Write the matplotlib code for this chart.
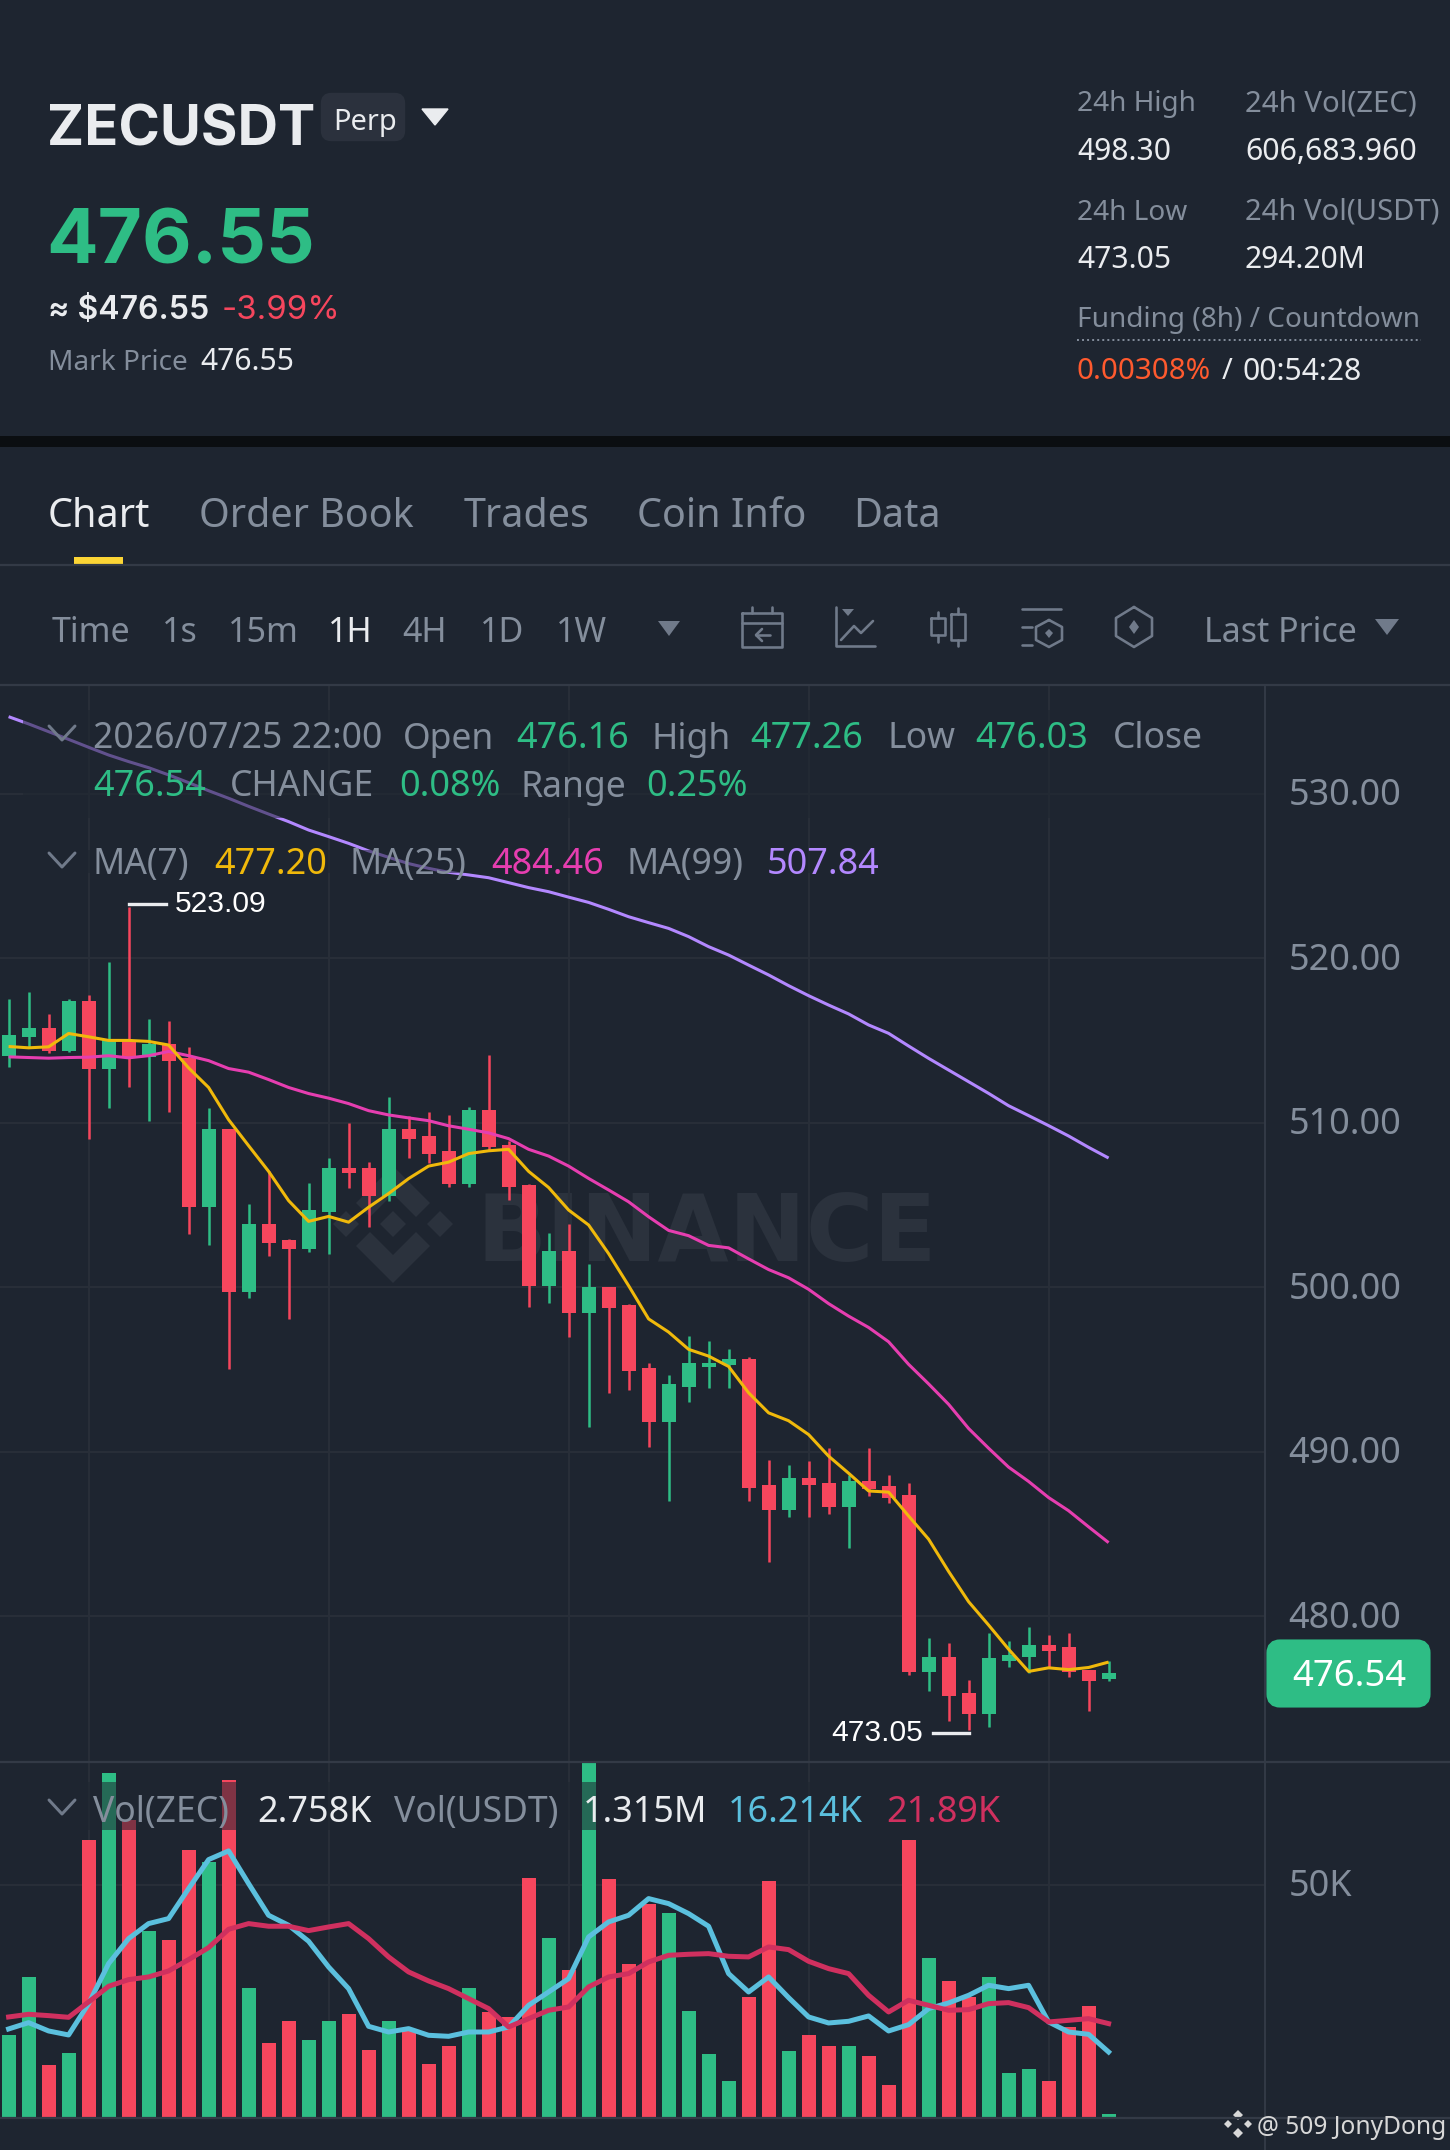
import matplotlib
matplotlib.use("Agg")
import matplotlib.pyplot as plt
from matplotlib.patches import FancyBboxPatch, Polygon, Rectangle
from matplotlib.transforms import offset_copy, ScaledTranslation

BG = "#1E2530"; GREEN = "#2EBD85"; RED = "#F6465D"; GRAY = "#848E9C"; WHITE = "#EAECEF"
ICON = "#707A8A"; GRID = "#282E38"; DIV = "#333A46"; YEL = "#F0B90B"; PINK = "#E63EB0"; PURP = "#B388FF"
VBLUE = "#5BC0DE"; VPINK = "#D0305F"

opens = [514.04,515.17,515.77,514.36,517.40,513.23,514.99,513.97,514.78,513.93,504.85,509.59,499.71,503.83,502.86,502.34,504.55,507.26,507.22,505.53,509.61,509.15,508.26,506.26,510.74,508.65,506.22,500.08,
         502.19,498.43,499.97,498.91,495.09,491.79,493.94,495.11,495.28,495.63,487.94,486.47,488.40,488.10,486.60,488.18,487.90,487.33,476.61,477.48,475.29,474.07,477.28,477.50,478.22,478.13,476.70,476.16]
closes = [515.32,515.77,514.36,517.40,513.23,514.99,513.97,514.78,513.76,504.85,509.59,499.71,503.83,502.68,502.34,504.70,507.26,506.94,505.53,509.63,509.00,508.11,506.26,510.76,508.50,506.05,500.08,502.18,
          498.43,499.97,498.75,494.91,491.79,494.11,495.41,495.41,495.63,487.81,486.47,488.40,487.94,486.60,488.18,487.75,487.18,476.61,477.48,475.13,474.07,477.46,477.65,478.22,477.87,476.59,476.07,476.54]
highs = [517.49,517.92,516.62,517.49,517.75,519.73,523.09,516.27,516.14,514.58,510.89,509.62,505.07,507.03,502.94,506.33,507.87,509.96,507.57,511.58,510.41,510.61,510.48,510.93,514.08,508.87,506.25,503.31,
         503.86,501.38,499.99,498.95,495.41,494.65,497.04,496.69,496.21,495.74,489.46,489.16,489.42,490.24,488.57,490.24,488.59,488.07,478.67,478.35,476.13,478.95,478.46,479.32,478.82,478.98,476.72,477.26]
lows = [513.39,514.58,514.23,514.28,509.02,510.89,512.17,510.11,510.65,503.20,502.53,495.02,499.36,501.86,498.08,502.12,502.03,506.03,503.64,505.25,507.87,507.52,506.09,506.05,508.33,505.29,498.80,499.01,
        496.97,491.50,493.57,493.72,490.29,487.01,493.02,493.87,493.83,487.01,483.27,486.03,486.03,486.21,484.14,487.31,486.84,476.39,475.46,473.64,473.05,473.27,476.89,476.55,476.85,476.31,474.22,476.03]
ma7 = [514.62,514.54,514.60,515.41,515.21,514.99,514.99,514.93,514.71,513.32,512.13,510.17,508.59,507.03,505.25,503.99,504.29,503.94,504.85,505.68,506.59,507.35,507.59,508.11,508.28,508.37,507.03,506.05,
       504.68,503.77,502.03,500.08,498.06,497.26,496.21,495.80,495.17,493.57,492.35,491.87,491.03,489.72,488.68,487.60,487.53,486.08,484.67,482.71,480.87,479.45,477.98,476.63,476.85,476.74,476.87,477.20]
ma25 = [513.99,513.95,513.91,513.95,513.97,514.06,513.93,514.06,514.32,514.06,513.76,513.28,513.06,512.61,512.13,511.76,511.48,511.15,510.72,510.46,510.28,510.11,509.80,509.59,509.37,509.02,508.37,507.96,
        507.35,506.60,505.90,505.18,504.27,503.44,503.12,502.53,502.38,501.71,501.06,500.56,499.86,498.99,498.23,497.54,496.67,495.30,494.11,492.87,491.40,490.20,489.05,488.18,487.20,486.40,485.42,484.46]
ma99 = [534.67,534.23,533.76,533.29,532.81,532.34,531.94,531.57,531.13,530.66,530.17,529.71,529.22,528.75,528.29,527.78,527.38,526.97,526.51,526.12,525.74,525.45,525.21,525.05,524.88,524.58,524.28,524.03,
        523.70,523.38,522.96,522.51,522.15,521.80,521.30,520.69,520.18,519.57,518.97,518.32,517.71,517.14,516.60,515.93,515.42,514.65,513.90,513.19,512.48,511.77,511.02,510.42,509.81,509.18,508.49,507.84]
volumes = [17.58,30.13,11.12,13.77,59.54,74.11,63.99,39.96,38.17,57.39,54.88,72.46,27.84,16.00,20.59,16.50,20.59,22.10,14.49,20.66,18.51,11.41,15.35,27.76,22.60,21.52,51.44,38.52,
           31.71,78.00,51.15,32.86,45.91,43.83,22.81,13.56,7.68,25.90,50.72,14.13,17.65,15.28,15.35,13.20,6.96,59.54,34.15,29.20,25.83,30.06,9.54,10.33,7.82,19.37,23.89,0.72]
vol_ma7 = [18.94,20.30,18.51,17.65,24.39,33.00,38.38,41.61,42.69,49.14,55.38,57.25,50.22,43.40,41.25,37.81,32.28,27.62,19.51,18.29,19.01,17.58,17.36,18.29,18.29,19.37,24.03,26.90,
           29.77,38.74,41.97,43.40,46.99,45.91,43.76,41.04,30.85,26.90,30.13,25.68,21.52,20.23,20.59,21.74,18.51,19.87,23.32,24.54,26.18,28.34,27.62,28.34,20.45,18.29,17.79,13.99]
vol_ma25 = [21.52,22.10,21.81,21.45,24.75,28.12,29.56,30.13,31.42,33.86,36.44,40.39,41.61,41.04,41.04,40.10,40.89,41.61,38.38,34.44,31.21,29.27,27.62,25.47,23.32,19.37,21.16,22.96,
            23.67,27.98,30.13,30.85,33.36,34.79,35.01,35.15,34.58,34.44,36.59,36.01,33.50,31.92,30.85,26.18,22.60,25.11,24.03,22.96,23.10,24.39,24.61,23.53,20.45,20.80,21.16,20.09]
price_ticks = [480, 490, 500, 510, 520, 530]
price_tick_labels = ["480.00", "490.00", "500.00", "510.00", "520.00", "530.00"]
grid_candles = [4, 16, 28, 40, 52]
low_val, high_val = min(lows), max(highs)

W, H = 1450, 2150
fig = plt.figure(figsize=(W/100, H/100), dpi=100, facecolor=BG)
SANS = ["Noto Sans", "DejaVu Sans"]
def pt(px): return px*0.72

def px_axes(z):
    a = fig.add_axes([0, 0, 1, 1], zorder=z)
    a.set_xlim(0, W); a.set_ylim(H, 0); a.axis("off"); a.patch.set_alpha(0)
    return a
under = px_axes(0)
over = px_axes(5)

def T(x, y, s, size=29, color=GRAY, ha="left", weight="normal", family=SANS, a=None):
    (a or over).text(x, y, s, fontsize=pt(size), color=color, ha=ha, va="center_baseline", fontweight=weight, family=family)

# watermark
cx, cy = 393, 1224
WM = "#2B323D"
for pts in ([(0,-58),(37,-21),(23,-7),(0,-30),(-23,-7),(-37,-21)], [(0,59),(37,22),(23,8),(0,31),(-23,8),(-37,22)],
            [(0,-13),(13,0),(0,13),(-13,0)], [(-47,-13),(-34,0),(-47,13),(-60,0)], [(47,-13),(60,0),(47,13),(34,0)]):
    under.add_patch(Polygon([(cx+a, cy+b) for a, b in pts], closed=True, fc=WM, ec="none"))
under.text(477, 1225, "BINANCE", fontsize=pt(92), color=WM, ha="left", va="center_baseline", fontweight="bold", family=["DejaVu Sans"])

# price pane
x_left, x_right = -8.6/20, (1265-8.6)/20
ax = fig.add_axes([0, 1-1761/H, 1265/W, (1761-686)/H], zorder=1)
ax.patch.set_alpha(0)
ax.set_xlim(x_left, x_right)
ax.set_ylim(520-(1761-958)/16.45, 520+(958-686)/16.45)
xs = list(range(len(opens)))
cols = [GREEN if c >= o else RED for o, c in zip(opens, closes)]
ax.set_xticks(grid_candles); ax.set_yticks(price_ticks); ax.set_yticklabels(price_tick_labels, family=SANS, va="center")
ax.tick_params(axis="x", length=0, labelbottom=False)
ax.yaxis.tick_right()
ax.tick_params(axis="y", length=0, pad=17, labelsize=pt(36), labelcolor=GRAY)
ax.grid(True, color=GRID, lw=1.5); ax.set_axisbelow(True)
for s in ax.spines.values(): s.set_visible(False)
ax.vlines(xs, lows, highs, colors=cols, lw=1.8, zorder=2)
ax.bar(xs, [abs(c-o) for o, c in zip(opens, closes)], bottom=[min(o, c) for o, c in zip(opens, closes)], width=0.7, color=cols, zorder=3)
ax.plot(xs, ma99, color=PURP, lw=2.2, zorder=4, solid_capstyle="butt")
ax.plot(xs, ma25, color=PINK, lw=2.2, zorder=4, solid_capstyle="butt")
ax.plot(xs, ma7, color=YEL, lw=2.2, zorder=4, solid_capstyle="butt")
hi_i, lo_i = highs.index(high_val), lows.index(low_val)
up = offset_copy(ax.transData, fig=fig, y=2, units="points")
dn = offset_copy(ax.transData, fig=fig, y=-2, units="points")
ax.plot([hi_i, hi_i+1.85], [high_val]*2, color=WHITE, lw=2.4, zorder=5, transform=up)
ax.plot([lo_i, lo_i-1.8], [low_val]*2, color=WHITE, lw=2.4, zorder=5, transform=dn)
ax.text(hi_i+2.3, high_val, f"{high_val:.2f}", va="center", ha="left", color="white", fontsize=pt(30), family=["Liberation Sans"], zorder=6, transform=up)
ax.text(lo_i-2.3, low_val, f"{low_val:.2f}", va="center", ha="right", color="white", fontsize=pt(30), family=["Liberation Sans"], zorder=6, transform=dn)

# volume pane
vx = fig.add_axes([0, 1-2117/H, 1265/W, (2117-1763)/H], zorder=2)
vx.patch.set_alpha(0)
vx.set_xlim(x_left, x_right); vx.set_ylim(0, (2117-1763)/4.648)
vx.set_xticks(grid_candles); vx.set_yticks([50]); vx.set_yticklabels(["50K"], family=SANS, va="center")
vx.tick_params(axis="x", length=0, labelbottom=False)
vx.yaxis.tick_right()
vx.tick_params(axis="y", length=0, pad=17, labelsize=pt(36), labelcolor=GRAY)
vx.grid(True, color=GRID, lw=1.5); vx.set_axisbelow(True)
for s in vx.spines.values(): s.set_visible(False)
vx.bar(xs, volumes, width=0.7, color=cols, zorder=3)
vx.plot(xs, vol_ma7, color=VBLUE, lw=3.6, zorder=4)
vx.plot(xs, vol_ma25, color=VPINK, lw=3.6, zorder=5)

# nudge the axis labels down a little
nudge = ScaledTranslation(0, -2/72, fig.dpi_scale_trans)
for a_ in (ax, vx):
    for tick in a_.yaxis.get_major_ticks():
        tick.label2.set_transform(tick.label2.get_transform() + nudge)

# legend veils
for (x0, y0, x1, y1) in [(23, 710, 1265, 818), (48, 850, 900, 873), (88, 1782, 1000, 1830)]:
    over.add_patch(Rectangle((x0, y0), x1-x0, y1-y0, fc=BG, ec="none", alpha=0.55))

# chrome lines
over.add_patch(Rectangle((0, 436), W, 11, fc="#0B0E11", ec="none"))
for y in (565, 685, 1762, 2118):
    over.plot([0, W], [y, y], color=DIV, lw=1.6)
over.plot([1265, 1265], [686, H], color=DIV, lw=1.4)
over.add_patch(Rectangle((74, 557), 49, 9, fc="#FCD535", ec="none"))

# header
T(47, 125, "ZECUSDT", 56, WHITE, weight="bold", family=["Inter"])
over.add_patch(FancyBboxPatch((325, 97), 76, 40, boxstyle="round,pad=0,rounding_size=6", mutation_aspect=1, fc="#2B313D", ec="#2B313D", lw=6))
T(333, 119, "Perp", 29, WHITE)
over.add_patch(Polygon([(422, 109), (448, 109), (435, 125)], fc=WHITE, ec=WHITE, lw=1))
T(46, 236, "476.55", 76.5, GREEN, weight="bold", family=["Inter"])
T(48, 307, "≈ $476.55", 32, WHITE, weight="semibold", family=["Inter", "DejaVu Sans"])
T(222, 307, "-3.99%", 33, RED, family=["Inter"])
T(48, 359, "Mark Price", 28, GRAY)
T(200, 359, "476.55", 30, WHITE)
for x, y, s, c, z in [(1077, 101, "24h High", GRAY, 28), (1245, 101, "24h Vol(ZEC)", GRAY, 29.4), (1077, 149, "498.30", WHITE, 30), (1245, 149, "606,683.960", WHITE, 30.2),
                   (1077, 209, "24h Low", GRAY, 28), (1245, 209, "24h Vol(USDT)", GRAY, 29.2), (1077, 257, "473.05", WHITE, 30), (1245, 257, "294.20M", WHITE, 30),
                   (1077, 317, "Funding (8h) / Countdown", GRAY, 28), (1077, 368, "0.00308%", "#FF5A2E", 29.5), (1222, 368, "/", WHITE, 29), (1243, 368, "00:54:28", WHITE, 30)]:
    T(x, y, s, z, c)
over.plot([1077, 1421], [340, 340], color=GRAY, lw=1.4, ls=(0, (1, 1.6)))

# tabs
for x, s, c in [(48, "Chart", WHITE), (199, "Order Book", GRAY), (464, "Trades", GRAY), (637, "Coin Info", GRAY), (853, "Data", GRAY)]:
    T(x, 512, s, 39.5, c, weight="medium")
for x, s, c in [(52, "Time", GRAY), (162, "1s", GRAY), (228, "15m", GRAY), (328, "1H", WHITE), (402, "4H", GRAY), (480, "1D", GRAY), (556, "1W", GRAY), (1204, "Last Price", GRAY)]:
    T(x, 629, s, 34, c)
over.add_patch(Polygon([(658, 621), (680, 621), (669, 636)], fc=ICON, ec="none"))
over.add_patch(Polygon([(1375, 619), (1399, 619), (1387, 635)], fc=ICON, ec="none"))

# toolbar icons
def L(pts, lw=2.6):
    over.plot([p[0] for p in pts], [p[1] for p in pts], color=ICON, lw=lw*0.72, solid_capstyle="round", solid_joinstyle="round")
L([(742,613),(782,613),(782,647),(742,647),(742,613)]); L([(742,623),(782,623)]); L([(752,607),(752,613)]); L([(772,607),(772,613)])
L([(770,635),(756,635)]); L([(762,629),(756,635),(762,641)])
L([(836,607),(836,646),(875,646)]); L([(841,640),(854,626),(861,633),(873,621)])
over.add_patch(Polygon([(842,609),(854,609),(848,616)], fc=ICON, ec="none"))
L([(931,618),(945,618),(945,635),(931,635),(931,618)]); L([(938,612),(938,618)]); L([(938,635),(938,642)])
L([(951,614),(965,614),(965,640),(951,640),(951,614)]); L([(958,608),(958,614)]); L([(958,640),(958,646)])
L([(1022,609),(1061,609)]); L([(1022,627),(1032,627)]); L([(1022,645),(1032,645)])
L([(1049,620),(1062,627),(1062,640),(1049,647),(1036,640),(1036,627),(1049,620)])
over.add_patch(Polygon([(1049,629),(1053,633),(1049,638),(1045,633)], fc=ICON, ec="none"))
L([(1134,607),(1152,618),(1152,636),(1134,647),(1116,636),(1116,618),(1134,607)])
over.add_patch(Polygon([(1134,620),(1139,627),(1134,634),(1129,627)], fc=ICON, ec="none"))

# legends
for y in (734, 861, 1808):
    L([(49, y-8), (62, y+6), (75, y-8)], 3)
LAB, NUM = 35.5, 36
for x, s, c, z in [(93,"2026/07/25 22:00",GRAY,LAB),(403,"Open",GRAY,LAB),(516,"476.16",GREEN,NUM),(652,"High",GRAY,LAB),(750,"477.26",GREEN,NUM),(888,"Low",GRAY,LAB),(975,"476.03",GREEN,NUM),(1113,"Close",GRAY,LAB)]:
    T(x, 735, s, z, c)
for x, s, c, z in [(93,"476.54",GREEN,NUM),(230,"CHANGE",GRAY,LAB),(399,"0.08%",GREEN,NUM),(521,"Range",GRAY,LAB),(646,"0.25%",GREEN,NUM)]:
    T(x, 783, s, z, c)
for x, s, c, z in [(93,"MA(7)",GRAY,LAB),(214,"477.20",YEL,NUM),(350,"MA(25)",GRAY,LAB),(491,"484.46",PINK,NUM),(627,"MA(99)",GRAY,LAB),(767,"507.84",PURP,NUM)]:
    T(x, 860, s, z, c)
for x, s, c, z in [(93,"Vol(ZEC)",GRAY,LAB),(257,"2.758K",WHITE,NUM),(394,"Vol(USDT)",GRAY,LAB),(583,"1.315M",WHITE,NUM),(728,"16.214K",VBLUE,NUM),(886,"21.89K",VPINK,NUM)]:
    T(x, 1808, s, z, c)

# price tag
over.add_patch(FancyBboxPatch((1272, 1645), 153, 57, boxstyle="round,pad=0,rounding_size=8", fc=GREEN, ec=GREEN, lw=8))
T(1349, 1672, "476.54", 36.5, "white", ha="center")

# corner credit
wx, wy = 1238, 2124
C = "#D8D8D8"
for px_, py_, r in [(0,-9,5),(0,9,5),(-10,0,4),(10,0,4)]:
    over.add_patch(Polygon([(wx+px_, wy+py_-r), (wx+px_+r, wy+py_), (wx+px_, wy+py_+r), (wx+px_-r, wy+py_)], fc=C, ec="none"))
T(1257, 2125, "@ 509 JonyDong", 24.5, C)

fig.savefig("out.png", dpi=100, facecolor=BG)
